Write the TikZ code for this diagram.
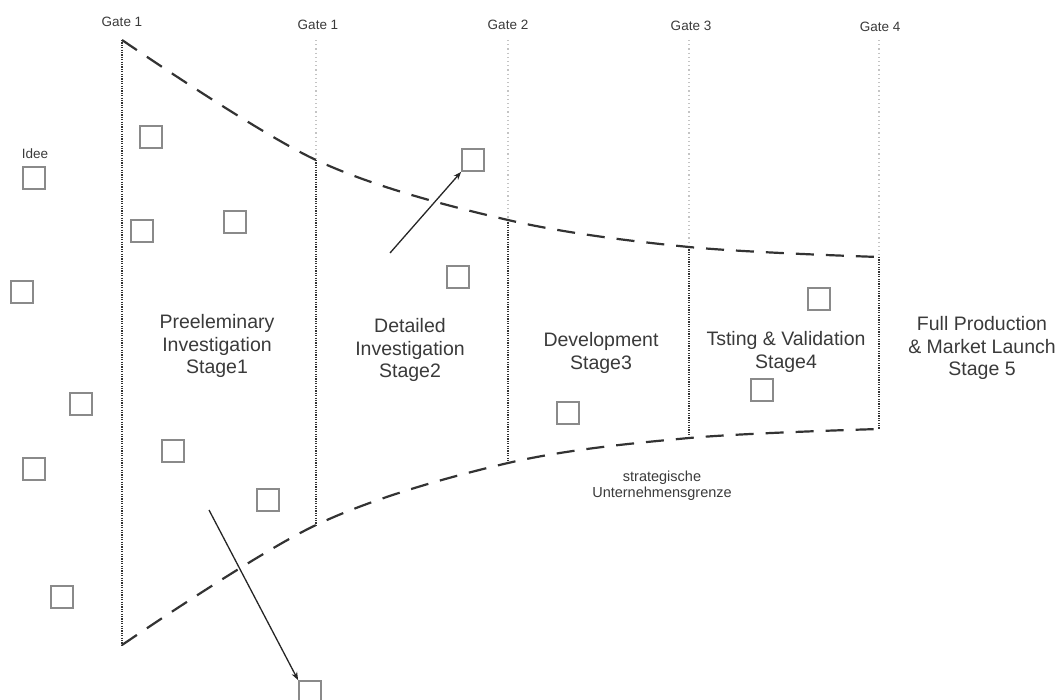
\documentclass[tikz,border=0pt]{standalone}
\usepackage{fontspec}
\setmainfont{Liberation Sans}
\usetikzlibrary{arrows.meta}
\definecolor{boxgray}{HTML}{8A8A8A}
\definecolor{fencegray}{HTML}{333333}
\definecolor{txtgray}{HTML}{3A3A3A}
\definecolor{lightdot}{HTML}{C4C4C4}
\begin{document}
\begin{tikzpicture}[x=1pt,y=-1pt,
  box/.style={draw=boxgray, line width=1.8pt, minimum size=22pt, inner sep=0pt},
  fence/.style={draw=fencegray, line width=2.2pt, dash pattern=on 18pt off 12pt},
  gatedark/.style={draw=fencegray, line width=1.6pt, dash pattern=on 1.2pt off 1.2pt},
  gatelight/.style={draw=lightdot, line width=1.2pt, dash pattern=on 1.2pt off 3pt},
  gatelabel/.style={text=txtgray, font=\fontsize{13.5}{15}\selectfont, inner sep=0pt},
  stagelabel/.style={text=txtgray, font=\fontsize{19.5}{22.5}\selectfont, align=center, inner sep=0pt},
  smalllabel/.style={text=txtgray, font=\fontsize{14.5}{16}\selectfont, align=center, inner sep=0pt},
  flow/.style={draw=black!85, line width=1.3pt, -{Stealth[length=8pt,width=6pt]}}
]
\useasboundingbox (0,0) rectangle (1064,699);

% gate top points (upper boundary) and bottom points (lower boundary)
\coordinate (u1) at (122,40);
\coordinate (u2) at (316,160);
\coordinate (u3) at (508,220);
\coordinate (u4) at (689,247);
\coordinate (u5) at (879,257);
\coordinate (l1) at (122,645);
\coordinate (l2) at (316,525);
\coordinate (l3) at (508,463);
\coordinate (l4) at (689,438);
\coordinate (l5) at (879,429);
\coordinate (t2) at (316,40);
\coordinate (t3) at (508,40);
\coordinate (t4) at (689,40);
\coordinate (t5) at (879,40);

% gate lines
\draw[gatelight] (t2) -- (u2);
\draw[gatelight] (t3) -- (u3);
\draw[gatelight] (t4) -- (u4);
\draw[gatelight] (t5) -- (u5);
\draw[gatedark] (u1) -- (l1);
\draw[gatedark] (u2) -- (l2);
\draw[gatedark] (u3) -- (l3);
\draw[gatedark] (u4) -- (l4);
\draw[gatedark] (u5) -- (l5);

% funnel boundaries
\draw[fence] plot[smooth, tension=0.55] coordinates {(u1) (u2) (u3) (u4) (u5)};
\draw[fence] plot[smooth, tension=0.55] coordinates {(l1) (l2) (l3) (l4) (l5)};

% gate labels
\node[gatelabel] (g1a) at (122,22) {Gate 1};
\node[gatelabel] (g1b) at (318,25) {Gate 1};
\node[gatelabel] (g2) at (508,25) {Gate 2};
\node[gatelabel] (g3) at (691,26) {Gate 3};
\node[gatelabel] (g4) at (880,27) {Gate 4};

% idea squares
\node[gatelabel] (idee) at (35,154) {Idee};
\node[box] (q1) at (34,178) {};
\node[box] (q2) at (22,292) {};
\node[box] (q3) at (81,404) {};
\node[box] (q4) at (34,469) {};
\node[box] (q5) at (62,597) {};
\node[box] (q6) at (151,137) {};
\node[box] (q7) at (142,231) {};
\node[box] (q8) at (235,222) {};
\node[box] (q9) at (173,451) {};
\node[box] (q10) at (268,500) {};
\node[box] (q11) at (473,160) {};
\node[box] (q12) at (458,277) {};
\node[box] (q13) at (568,413) {};
\node[box] (q14) at (819,299) {};
\node[box] (q15) at (762,390) {};
\node[box] (q16) at (310,692) {};

% arrows
\coordinate (a1) at (390,253);
\coordinate (a2) at (209,510);
\draw[flow] (a1) -- (q11.south west);
\draw[flow] (a2) -- (q16.north west);

% stage labels
\node[stagelabel] (s1) at (217,346) {Preeleminary\\Investigation\\Stage1};
\node[stagelabel] (s2) at (410,350) {Detailed\\Investigation\\Stage2};
\node[stagelabel] (s3) at (601,353) {Development\\Stage3};
\node[stagelabel] (s4) at (786,352) {Tsting \& Validation\\Stage4};
\node[stagelabel] (s5) at (982,348) {Full Production\\\& Market Launch\\Stage 5};
\node[smalllabel] (grenze) at (662,486) {strategische\\Unternehmensgrenze};
\end{tikzpicture}
\end{document}
